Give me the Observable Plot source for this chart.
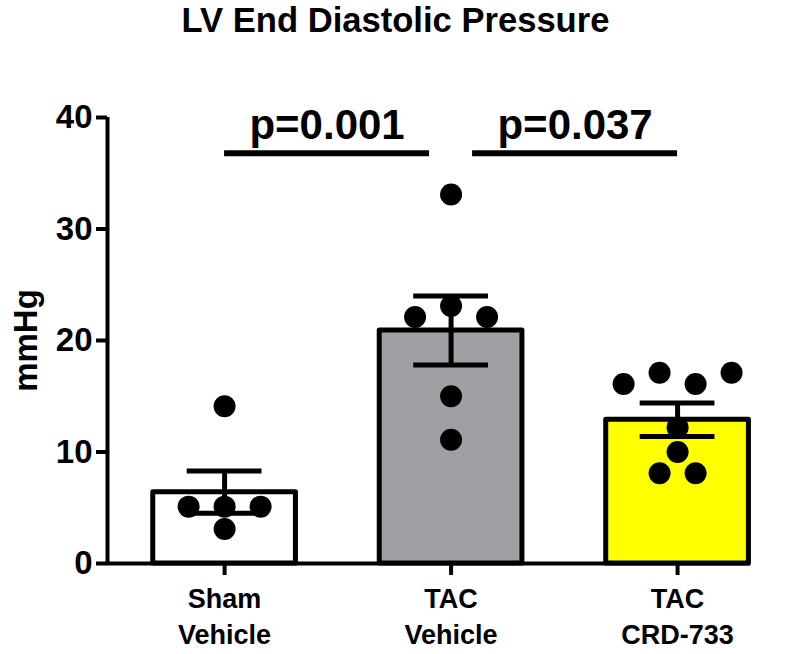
<!DOCTYPE html>
<html><head><meta charset="utf-8">
<script src="https://cdn.jsdelivr.net/npm/d3@7"></script>
<script src="https://cdn.jsdelivr.net/npm/@observablehq/plot@0.6"></script>
<style>
body{margin:0;background:#fff;font-family:"Liberation Sans",Arial,sans-serif;}
#title{height:60px;font-weight:bold;font-size:34.6px;line-height:40px;text-align:center;color:#000;padding-right:4px;}
#chart svg{display:block;font-family:"Liberation Sans",Arial,sans-serif;}
</style></head>
<body>
<div id="title">LV End Diastolic Pressure</div>
<div id="chart"></div>
<script>
// ---- data ----
const groups = ["Sham Vehicle", "TAC Vehicle", "TAC CRD-733"];
const groupLabels = ["Sham\nVehicle", "TAC\nVehicle", "TAC\nCRD-733"];
const means = [6.4, 20.9, 12.9];
const sems = [1.9, 3.1, 1.5];
const shamValues = [14.1, 5.1, 5.1, 5.1, 3.1];
const tacVehicleValues = [33.1, 22.1, 23.1, 22.1, 15.0, 11.1];
const tacCrdValues = [16.1, 17.1, 16.1, 17.1, 12.2, 10.0, 8.1, 8.1];
const fills = ["#ffffff", "#a09fa4", "#ffff00"];
const comparisons = [[0, 1], [1, 2]];
const pLabels = ["p=0.001", "p=0.037"];
const yTicks = [0, 10, 20, 30, 40];
const yLabel = "mmHg";

// ---- layout ----
const W = 795, H = 594, mL = 107, mR = 45, mT = 57, mB = 91;
const xDomain = [-0.517, 2.322];
const pxPerUnit = (W - mL - mR) / (xDomain[1] - xDomain[0]);
const barHalf = 0.315, capHalf = 0.165, swarmStep = 36 / pxPerUnit, gap = 0.095;
const sigY = 36.8, pTextY = 38.1;

const summary = groups.map((g, i) => ({i, g, mean: means[i], sem: sems[i], fill: fills[i]}));

// simple swarm: values close together are spread side by side
function swarm(values, gi) {
  const idx = values.map((v, k) => k).sort((a, b) => values[a] - values[b]);
  const clusters = [];
  for (const k of idx) {
    const last = clusters[clusters.length - 1];
    if (last && values[k] - values[last[last.length - 1]] < 1.5) last.push(k);
    else clusters.push([k]);
  }
  const out = [];
  for (const c of clusters) {
    c.sort((a, b) => a - b);
    c.forEach((k, j) => out.push({x: gi + (j - (c.length - 1) / 2) * swarmStep, y: values[k]}));
  }
  return out;
}
const points = [
  ...swarm(shamValues, 0),
  ...swarm(tacVehicleValues, 1),
  ...swarm(tacCrdValues, 2)
];
const sig = comparisons.map(([a, b], k) => {
  const x1 = a + (a === 1 ? gap : 0), x2 = b - (b === 1 ? gap : 0);
  return {x1, x2, xm: (x1 + x2) / 2, label: pLabels[k]};
});

const chart = Plot.plot({
  width: W, height: H,
  marginLeft: mL, marginRight: mR, marginTop: mT, marginBottom: mB,
  style: {fontFamily: '"Liberation Sans", Arial, sans-serif', color: "#000", background: "#fff"},
  x: {type: "linear", domain: xDomain, axis: null},
  y: {domain: [0, 40], axis: null},
  marks: [
    Plot.rectY(summary, {x1: d => d.i - barHalf, x2: d => d.i + barHalf, y1: 0, y2: "mean",
      fill: "fill", stroke: "#000", strokeWidth: 5, strokeLinejoin: "round"}),
    Plot.ruleY([0], {stroke: "#000", strokeWidth: 4}),
    Plot.ruleX([xDomain[0]], {y1: 0, y2: 40, stroke: "#000", strokeWidth: 4}),
    Plot.axisY({ticks: yTicks, tickSize: 11, tickPadding: 4, fontSize: 33, fontWeight: "bold",
      strokeWidth: 4, label: null}),
    Plot.text([yLabel], {frameAnchor: "left", textAnchor: "middle", dx: -81, rotate: -90, text: d => d,
      fontSize: 33, fontWeight: "bold", fill: "#000"}),
    Plot.axisX({ticks: [0, 1, 2], tickSize: 12, tickPadding: 8, fontSize: 27, fontWeight: "bold",
      strokeWidth: 4, lineHeight: 1.3, tickFormat: i => groupLabels[i], label: null}),
    Plot.ruleX(summary, {x: "i", y1: d => d.mean - d.sem, y2: d => d.mean + d.sem, stroke: "#000", strokeWidth: 5}),
    Plot.ruleY(summary, {x1: d => d.i - capHalf, x2: d => d.i + capHalf, y: d => d.mean + d.sem, stroke: "#000", strokeWidth: 5}),
    Plot.ruleY(summary, {x1: d => d.i - capHalf, x2: d => d.i + capHalf, y: d => d.mean - d.sem, stroke: "#000", strokeWidth: 5}),
    Plot.dot(points, {x: "x", y: "y", r: 11, fill: "#000", stroke: null}),
    Plot.ruleY(sig, {x1: "x1", x2: "x2", y: sigY, stroke: "#000", strokeWidth: 6}),
    Plot.text(sig, {x: "xm", y: pTextY, text: "label", lineAnchor: "bottom", fontSize: 42, fontWeight: "bold", fill: "#000"})
  ]
});
document.getElementById("chart").appendChild(chart);
</script>
</body></html>
